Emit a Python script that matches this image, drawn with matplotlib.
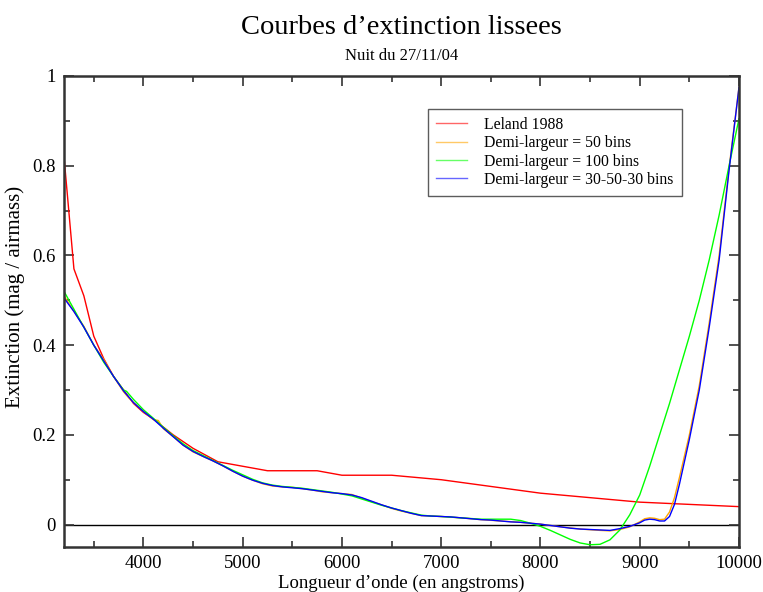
import matplotlib
matplotlib.use('Agg')
import matplotlib.pyplot as plt
from matplotlib.ticker import MultipleLocator, FixedLocator

plt.rcParams['font.family'] = ['Liberation Serif', 'DejaVu Serif']

# Leland 1988
lam_leland = [3200, 3300, 3400, 3500, 3600, 3700, 3800, 3900, 4000, 4100, 4300, 4500, 4750,
              5000, 5250, 5750, 6000, 6500, 7000, 8000, 9000, 10000]
ext_leland = [0.82, 0.57, 0.51, 0.42, 0.37, 0.33, 0.30, 0.27, 0.25, 0.235, 0.20, 0.17, 0.14,
              0.13, 0.12, 0.12, 0.11, 0.11, 0.10, 0.07, 0.05, 0.04]

# Demi-largeur = 30-50-30 bins
lam_blue = [3200, 3300, 3400, 3500, 3600, 3700, 3800, 3900, 4000, 4100, 4200, 4300, 4400,
            4500, 4600, 4700, 4800, 4900, 5000, 5100, 5200, 5300, 5400, 5500, 5600, 5700,
            5800, 5900, 6000, 6100, 6200, 6300, 6400, 6500, 6600, 6700, 6800, 6900, 7000,
            7100, 7200, 7300, 7400, 7500, 7600, 7700, 7800, 7900, 8000, 8100, 8200, 8300,
            8400, 8500, 8600, 8700, 8800, 8900, 9000, 9050, 9100, 9150, 9200, 9250, 9300,
            9350, 9400, 9500, 9600, 9700, 9800, 9900, 10000]
ext_blue = [0.505, 0.475, 0.44, 0.40, 0.365, 0.33, 0.298, 0.272, 0.252, 0.235, 0.215, 0.196, 0.177,
            0.163, 0.152, 0.142, 0.131, 0.119, 0.108, 0.099, 0.092, 0.087, 0.084, 0.082, 0.080, 0.077,
            0.074, 0.071, 0.069, 0.066, 0.060, 0.052, 0.044, 0.037, 0.031, 0.025, 0.020, 0.019, 0.018,
            0.017, 0.015, 0.013, 0.011, 0.010, 0.008, 0.006, 0.005, 0.003, 0.001, -0.002, -0.005, -0.008,
            -0.010, -0.011, -0.012, -0.013, -0.009, -0.004, 0.004, 0.010, 0.012, 0.011, 0.008, 0.008, 0.018,
            0.045, 0.09, 0.19, 0.30, 0.44, 0.59, 0.79, 0.975]

# Demi-largeur = 50 bins
lam_orange = [3200, 3300, 3400, 3500, 3600, 3700, 3800, 3850, 3900, 4000, 4100, 4150, 4200, 4300,
              4400, 4500, 4600, 4700, 4800, 4900, 5000, 5100, 5200, 5300, 5400, 5500, 5600, 5700,
              5800, 5900, 6000, 6100, 6200, 6300, 6400, 6500, 6600, 6700, 6800, 6900, 7000, 7200,
              7400, 7600, 7800, 8000, 8200, 8400, 8600, 8700, 8800, 8900, 9000, 9050, 9100, 9150,
              9200, 9250, 9300, 9350, 9400, 9500, 9600, 9700, 9800, 9900, 10000]
ext_orange = [0.51, 0.475, 0.442, 0.40, 0.368, 0.33, 0.296, 0.283, 0.272, 0.252, 0.234, 0.232, 0.214, 0.196,
              0.177, 0.162, 0.152, 0.142, 0.131, 0.119, 0.108, 0.099, 0.091, 0.086, 0.084, 0.083, 0.080, 0.077,
              0.073, 0.071, 0.069, 0.067, 0.059, 0.051, 0.044, 0.036, 0.030, 0.025, 0.020, 0.019, 0.018, 0.015,
              0.011, 0.008, 0.005, 0.001, -0.005, -0.010, -0.013, -0.014, -0.011, -0.005, 0.006, 0.013, 0.015,
              0.014, 0.011, 0.012, 0.028, 0.06, 0.105, 0.20, 0.31, 0.45, 0.60, 0.795, 0.975]

# Demi-largeur = 100 bins
lam_green = [3200, 3300, 3400, 3500, 3600, 3700, 3800, 3830, 3900, 4000, 4100, 4200, 4300, 4400,
             4500, 4600, 4700, 4800, 4900, 5000, 5100, 5200, 5300, 5400, 5500, 5600, 5700, 5800,
             5900, 6000, 6100, 6200, 6300, 6400, 6500, 6600, 6700, 6800, 6900, 7000, 7200, 7400,
             7600, 7700, 7800, 7900, 8000, 8100, 8200, 8300, 8400, 8500, 8600, 8700, 8800, 8900,
             9000, 9100, 9200, 9300, 9400, 9500, 9600, 9700, 9800, 9900, 10000]
ext_green = [0.52, 0.48, 0.44, 0.40, 0.362, 0.33, 0.300, 0.297, 0.279, 0.256, 0.237, 0.217, 0.198, 0.180,
             0.165, 0.154, 0.143, 0.132, 0.121, 0.111, 0.101, 0.093, 0.088, 0.085, 0.083, 0.081, 0.078, 0.075,
             0.072, 0.068, 0.064, 0.057, 0.050, 0.043, 0.037, 0.031, 0.026, 0.021, 0.019, 0.018, 0.015, 0.012,
             0.012, 0.012, 0.009, 0.003, -0.004, -0.013, -0.023, -0.033, -0.041, -0.045, -0.044, -0.034, -0.012,
             0.022, 0.066, 0.13, 0.20, 0.27, 0.345, 0.42, 0.50, 0.59, 0.69, 0.80, 0.905]

fig = plt.figure(figsize=(7.63, 5.92), dpi=100)
ax = fig.add_axes([64 / 763, 45 / 592, 675 / 763, 471 / 592])

ax.axhline(0, color='black', lw=1.0, zorder=1)
ax.plot(lam_leland, ext_leland, color='#ff0000', lw=1.0, label='Leland 1988')
ax.plot(lam_orange, ext_orange, color='#ffa500', lw=1.0, label='Demi-largeur = 50 bins')
ax.plot(lam_green, ext_green, color='#00ff00', lw=1.0, label='Demi-largeur = 100 bins')
ax.plot(lam_blue, ext_blue, color='#0000ff', lw=1.0, label='Demi-largeur = 30-50-30 bins')

ax.set_xlim(3200, 10000)
ax.set_ylim(-0.05, 1.0)
ax.xaxis.set_major_locator(FixedLocator([4000, 5000, 6000, 7000, 8000, 9000, 10000]))
ax.xaxis.set_minor_locator(MultipleLocator(500))
ax.yaxis.set_major_locator(FixedLocator([0, 0.2, 0.4, 0.6, 0.8, 1.0]))
ax.yaxis.set_minor_locator(MultipleLocator(0.1))
ax.set_yticklabels(['0', '0.2', '0.4', '0.6', '0.8', '1'])
ax.tick_params(which='both', direction='in', top=True, right=True, labelsize=13.5,
               color='#333333', width=1.2)
ax.tick_params(which='major', length=7, pad=6)
ax.tick_params(which='minor', length=4)
for s in ax.spines.values():
    s.set_linewidth(1.8)
    s.set_color('#333333')

ax.set_xlabel("Longueur d\u2019onde (en angstroms)", fontsize=13.5, labelpad=2)
ax.set_ylabel("Extinction (mag / airmass)", fontsize=15)
ax.yaxis.set_label_coords(-39 / 675, 0.53)

fig.text(0.5262, 1 - 28 / 592, "Courbes d\u2019extinction lissees", fontsize=20.5, ha='center', va='center')
fig.text(0.5262, 1 - 56 / 592, "Nuit du 27/11/04", fontsize=12, ha='center', va='center')

leg = ax.legend(loc='upper left', bbox_to_anchor=((428 - 64) / 675, (547 - 109) / 471),
                fontsize=11.3, frameon=True, fancybox=False, handlelength=2.0,
                borderpad=0.5, labelspacing=0.15, handletextpad=1.1, borderaxespad=0)
leg.get_frame().set_edgecolor('#333333')
leg.get_frame().set_linewidth(1.0)
for h in leg.get_lines():
    h.set_alpha(0.6)

fig.savefig('out.png', dpi=100)
